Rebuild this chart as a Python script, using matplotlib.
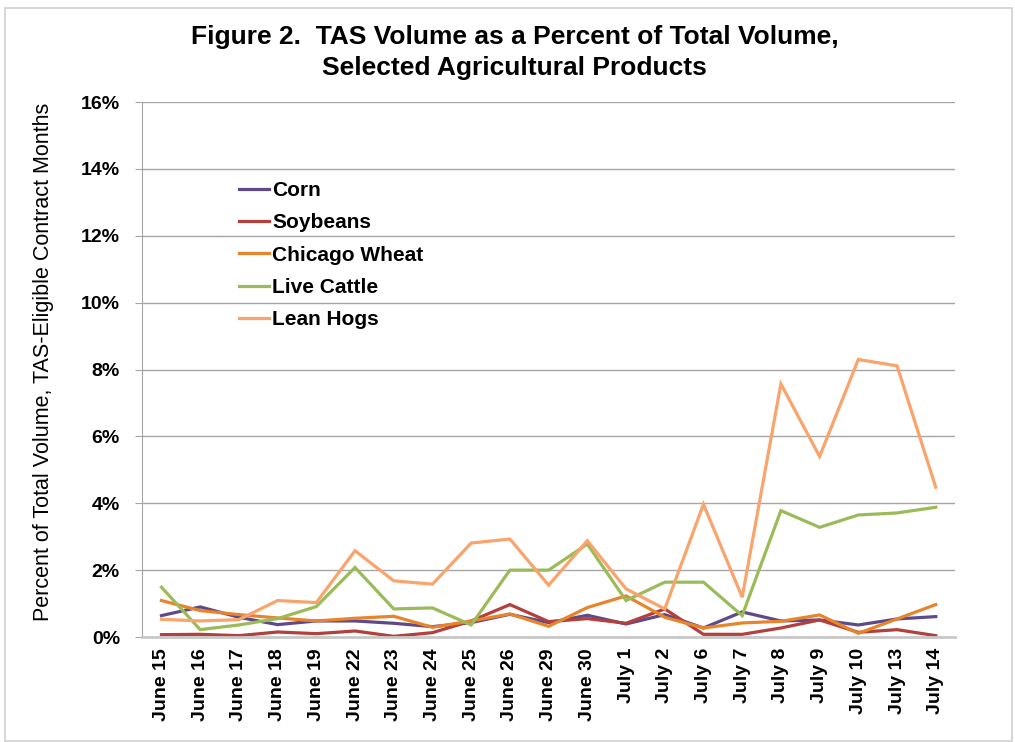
import matplotlib
matplotlib.use("Agg")
import matplotlib.pyplot as plt
from matplotlib.patches import Rectangle
from matplotlib.ticker import FuncFormatter, MultipleLocator

plt.rcParams["font.family"] = ["Liberation Sans", "DejaVu Sans"]

# ---- data (percent of total volume) ----
dates = ["June 15", "June 16", "June 17", "June 18", "June 19", "June 22", "June 23",
         "June 24", "June 25", "June 26", "June 29", "June 30", "July 1", "July 2",
         "July 6", "July 7", "July 8", "July 9", "July 10", "July 13", "July 14"]
corn = [0.64, 0.90, 0.59, 0.37, 0.48, 0.48, 0.41, 0.31, 0.43, 0.68, 0.43, 0.65,
        0.39, 0.67, 0.27, 0.75, 0.48, 0.51, 0.36, 0.54, 0.61]
soybeans = [0.07, 0.08, 0.04, 0.15, 0.10, 0.18, 0.02, 0.13, 0.48, 0.97, 0.46, 0.55,
            0.41, 0.84, 0.08, 0.08, 0.27, 0.51, 0.14, 0.22, 0.04]
wheat = [1.09, 0.79, 0.67, 0.57, 0.48, 0.56, 0.62, 0.29, 0.48, 0.69, 0.32, 0.88,
         1.23, 0.59, 0.27, 0.42, 0.47, 0.66, 0.11, 0.54, 0.97]
cattle = [1.49, 0.22, 0.36, 0.55, 0.91, 2.08, 0.84, 0.87, 0.36, 2.00, 2.00, 2.78,
          1.09, 1.64, 1.64, 0.64, 3.78, 3.28, 3.65, 3.71, 3.88]
hogs = [0.53, 0.48, 0.52, 1.09, 1.03, 2.58, 1.68, 1.58, 2.81, 2.93, 1.55, 2.88,
        1.44, 0.84, 3.97, 1.19, 7.57, 5.40, 8.30, 8.11, 4.48]

series = [("Corn", corn, "#5E4A8A"),
          ("Soybeans", soybeans, "#B2403D"),
          ("Chicago Wheat", wheat, "#E8852C"),
          ("Live Cattle", cattle, "#9BBB59"),
          ("Lean Hogs", hogs, "#F9A46C")]

fig = plt.figure(figsize=(10.15, 7.42), dpi=100)
fig.patch.set_facecolor("white")
fig.patches.append(Rectangle((0.005, 0.002), 0.992, 0.987, transform=fig.transFigure,
                             fill=False, ec="#D0D0D0", lw=1.2))

ax = fig.add_axes([0.140, 0.1415, 0.801, 0.721])
x = range(len(dates))
for name, vals, col in series:
    ax.plot(x, vals, color=col, lw=2.3, label=name, solid_joinstyle="miter")

ax.set_xlim(-0.5, len(dates) - 0.5)
ax.set_ylim(0, 16)
ax.yaxis.set_major_locator(MultipleLocator(2))
ax.yaxis.set_major_formatter(FuncFormatter(lambda v, p: f"{v:.0f}%"))
ax.grid(axis="y", color="#A6A6A6", lw=1.0)
ax.set_axisbelow(True)
for s in ("top", "right"):
    ax.spines[s].set_visible(False)
ax.spines["left"].set_color("#A6A6A6")
ax.spines["bottom"].set_color("#C8C8C8")
ax.spines["bottom"].set_linewidth(2)

ax.set_xticks(list(x))
ax.set_xticklabels(dates, rotation=90, fontsize=14, fontweight="bold")
ax.tick_params(axis="x", length=0, pad=8)
ax.tick_params(axis="y", length=5, color="#A6A6A6", labelsize=14, pad=11)
for t in ax.get_yticklabels():
    t.set_fontweight("bold")

ax.set_ylabel("Percent of Total Volume, TAS-Eligible Contract Months", fontsize=15.5)
ax.yaxis.set_label_coords(-0.108, 0.515)

leg = ax.legend(loc="upper left", bbox_to_anchor=(0.109, 0.868), frameon=False,
                prop={"weight": "bold", "size": 15}, handlelength=1.45,
                handletextpad=0.15, labelspacing=0.64, borderaxespad=0)

fig.text(0.507, 0.950, "Figure 2.  TAS Volume as a Percent of Total Volume,",
         ha="center", va="center", fontsize=19, fontweight="bold",
         family=["Liberation Sans Narrow", "Liberation Sans"])
fig.text(0.507, 0.908, "Selected Agricultural Products",
         ha="center", va="center", fontsize=19, fontweight="bold",
         family=["Liberation Sans Narrow", "Liberation Sans"])

fig.savefig("out.png", dpi=100, facecolor="white")
